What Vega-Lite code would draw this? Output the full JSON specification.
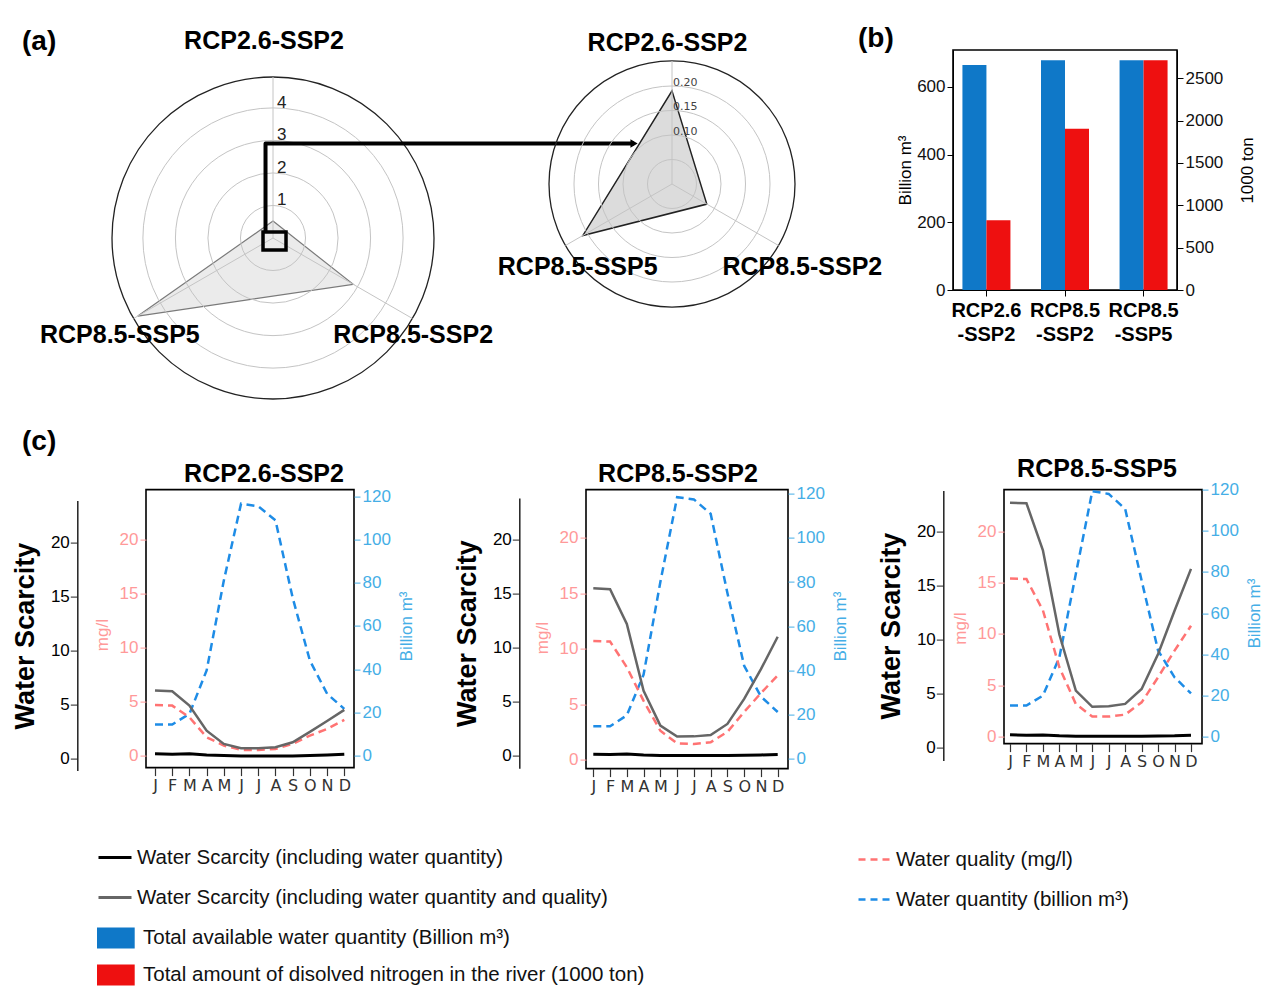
{
"$schema": "https://vega.github.io/schema/vega-lite/v6.json",
"background": "white",
"padding": {"left": 10, "top": 24, "right": 5, "bottom": 5},
"spacing": 25.6,
"config": {
  "font": "Liberation Sans",
  "view": {"stroke": "#000", "strokeWidth": 1.6},
  "axis": {"grid": false, "labelFont": "Liberation Sans", "titleFont": "Liberation Sans", "labelOverlap": false},
  "title": {"font": "Liberation Sans", "color": "#000"},
  "legend": {"labelFont": "Liberation Sans", "labelLimit": 800}
},
"datasets": {
  "monthly": [
    {"scenario": "RCP2.6-SSP2", "month": 1, "ws": 0.42, "wsq": 6.27, "quality": 4.69, "quantity": 14.4},
    {"scenario": "RCP2.6-SSP2", "month": 2, "ws": 0.38, "wsq": 6.2, "quality": 4.63, "quantity": 14.4},
    {"scenario": "RCP2.6-SSP2", "month": 3, "ws": 0.42, "wsq": 4.88, "quality": 3.55, "quantity": 19.3},
    {"scenario": "RCP2.6-SSP2", "month": 4, "ws": 0.3, "wsq": 2.56, "quality": 1.7, "quantity": 39.4},
    {"scenario": "RCP2.6-SSP2", "month": 5, "ws": 0.25, "wsq": 1.33, "quality": 0.93, "quantity": 81},
    {"scenario": "RCP2.6-SSP2", "month": 6, "ws": 0.22, "wsq": 0.93, "quality": 0.53, "quantity": 116.6},
    {"scenario": "RCP2.6-SSP2", "month": 7, "ws": 0.22, "wsq": 0.93, "quality": 0.53, "quantity": 115.4},
    {"scenario": "RCP2.6-SSP2", "month": 8, "ws": 0.22, "wsq": 1.02, "quality": 0.62, "quantity": 108.9},
    {"scenario": "RCP2.6-SSP2", "month": 9, "ws": 0.22, "wsq": 1.48, "quality": 1.08, "quantity": 73},
    {"scenario": "RCP2.6-SSP2", "month": 10, "ws": 0.25, "wsq": 2.45, "quality": 1.85, "quantity": 44},
    {"scenario": "RCP2.6-SSP2", "month": 11, "ws": 0.3, "wsq": 3.45, "quality": 2.47, "quantity": 28.6},
    {"scenario": "RCP2.6-SSP2", "month": 12, "ws": 0.38, "wsq": 4.48, "quality": 3.3, "quantity": 21.6},
    {"scenario": "RCP8.5-SSP2", "month": 1, "ws": 0.12, "wsq": 15.5, "quality": 10.7, "quantity": 14.5},
    {"scenario": "RCP8.5-SSP2", "month": 2, "ws": 0.1, "wsq": 15.4, "quality": 10.65, "quantity": 14.5},
    {"scenario": "RCP8.5-SSP2", "month": 3, "ws": 0.15, "wsq": 12.2, "quality": 8.33, "quantity": 19.5},
    {"scenario": "RCP8.5-SSP2", "month": 4, "ws": 0.05, "wsq": 6.0, "quality": 5.3, "quantity": 38},
    {"scenario": "RCP8.5-SSP2", "month": 5, "ws": 0.02, "wsq": 2.78, "quality": 2.6, "quantity": 80},
    {"scenario": "RCP8.5-SSP2", "month": 6, "ws": 0.02, "wsq": 1.76, "quality": 1.47, "quantity": 118.5},
    {"scenario": "RCP8.5-SSP2", "month": 7, "ws": 0.02, "wsq": 1.78, "quality": 1.4, "quantity": 117.5},
    {"scenario": "RCP8.5-SSP2", "month": 8, "ws": 0.02, "wsq": 1.9, "quality": 1.56, "quantity": 111},
    {"scenario": "RCP8.5-SSP2", "month": 9, "ws": 0.02, "wsq": 2.93, "quality": 2.5, "quantity": 75},
    {"scenario": "RCP8.5-SSP2", "month": 10, "ws": 0.04, "wsq": 5.25, "quality": 4.3, "quantity": 42},
    {"scenario": "RCP8.5-SSP2", "month": 11, "ws": 0.06, "wsq": 8.0, "quality": 6.0, "quantity": 28},
    {"scenario": "RCP8.5-SSP2", "month": 12, "ws": 0.1, "wsq": 11.0, "quality": 7.6, "quantity": 21},
    {"scenario": "RCP8.5-SSP5", "month": 1, "ws": 1.22, "wsq": 22.7, "quality": 15.4, "quantity": 15.1},
    {"scenario": "RCP8.5-SSP5", "month": 2, "ws": 1.18, "wsq": 22.65, "quality": 15.35, "quantity": 15.1},
    {"scenario": "RCP8.5-SSP5", "month": 3, "ws": 1.2, "wsq": 18.3, "quality": 12.3, "quantity": 19.9},
    {"scenario": "RCP8.5-SSP5", "month": 4, "ws": 1.12, "wsq": 10.5, "quality": 6.75, "quantity": 38.5},
    {"scenario": "RCP8.5-SSP5", "month": 5, "ws": 1.08, "wsq": 5.3, "quality": 3.18, "quantity": 79},
    {"scenario": "RCP8.5-SSP5", "month": 6, "ws": 1.08, "wsq": 3.8, "quality": 1.95, "quantity": 119.2},
    {"scenario": "RCP8.5-SSP5", "month": 7, "ws": 1.08, "wsq": 3.85, "quality": 1.95, "quantity": 117.9},
    {"scenario": "RCP8.5-SSP5", "month": 8, "ws": 1.08, "wsq": 4.07, "quality": 2.14, "quantity": 110.6},
    {"scenario": "RCP8.5-SSP5", "month": 9, "ws": 1.08, "wsq": 5.46, "quality": 3.34, "quantity": 75.8},
    {"scenario": "RCP8.5-SSP5", "month": 10, "ws": 1.1, "wsq": 8.7, "quality": 5.78, "quantity": 41.8},
    {"scenario": "RCP8.5-SSP5", "month": 11, "ws": 1.12, "wsq": 12.7, "quality": 8.37, "quantity": 28.8},
    {"scenario": "RCP8.5-SSP5", "month": 12, "ws": 1.18, "wsq": 16.57, "quality": 10.8, "quantity": 21}
  ],
  "bars": [
    {"scenario": "RCP2.6-SSP2", "var": "Total available water quantity (Billion m³)", "value": 665},
    {"scenario": "RCP2.6-SSP2", "var": "Total amount of disolved nitrogen in the river (1000 ton)", "value": 823},
    {"scenario": "RCP8.5-SSP2", "var": "Total available water quantity (Billion m³)", "value": 679},
    {"scenario": "RCP8.5-SSP2", "var": "Total amount of disolved nitrogen in the river (1000 ton)", "value": 1905},
    {"scenario": "RCP8.5-SSP5", "var": "Total available water quantity (Billion m³)", "value": 679},
    {"scenario": "RCP8.5-SSP5", "var": "Total amount of disolved nitrogen in the river (1000 ton)", "value": 2712}
  ],
  "radarL": [
    {"cat": "RCP2.6-SSP2", "k": 0, "angle": 90, "v": 0.52},
    {"cat": "RCP8.5-SSP2", "k": 1, "angle": -30, "v": 2.85},
    {"cat": "RCP8.5-SSP5", "k": 2, "angle": 210, "v": 4.8}
  ],
  "radarR": [
    {"cat": "RCP2.6-SSP2", "k": 0, "angle": 90, "v": 0.19},
    {"cat": "RCP8.5-SSP2", "k": 1, "angle": -30, "v": 0.082},
    {"cat": "RCP8.5-SSP5", "k": 2, "angle": 210, "v": 0.21}
  ],
  "ringsL": [{"r": 1, "outer": false}, {"r": 2, "outer": false}, {"r": 3, "outer": false}, {"r": 4, "outer": false}, {"r": 4.95, "outer": true}],
  "ringsR": [{"r": 0.05, "outer": false}, {"r": 0.1, "outer": false}, {"r": 0.15, "outer": false}, {"r": 0.2, "outer": false}, {"r": 0.251, "outer": true}],
  "zoomBox": [{"x1": -0.307, "x2": 0.4, "y1": -0.369, "y2": 0.184}],
  "arrow": [{"o": 1, "ax": -0.23, "ay": 0.184}, {"o": 2, "ax": -0.23, "ay": 2.905}, {"o": 3, "ax": 11.1, "ay": 2.905}]
},
"vconcat": [
  {
    "resolve": {"scale": {"size": "independent"}},
    "hconcat": [
      {
        "width": 380, "height": 351,
        "view": {"stroke": null},
        "title": {"text": "(a)", "anchor": "start", "frame": "group", "dx": -124, "dy": 49.5, "offset": 0, "fontSize": 28, "fontWeight": "bold", "baseline": "alphabetic"},
        "layer": [
          {"data": {"name": "radarL"},
           "transform": [{"calculate": "datum.v*cos(datum.angle*PI/180)", "as": "px"}, {"calculate": "datum.v*sin(datum.angle*PI/180)", "as": "py"}],
           "mark": {"type": "line", "interpolate": "linear-closed", "fill": "#ebebeb", "stroke": "#7a7a7a", "strokeWidth": 1.2},
           "encoding": {
             "x": {"field": "px", "type": "quantitative", "scale": {"domain": [-4.95, 4.95], "range": [-34, 288], "nice": false, "zero": false}, "axis": null},
             "y": {"field": "py", "type": "quantitative", "scale": {"domain": [-4.95, 4.95], "range": [349, 27], "nice": false, "zero": false}, "axis": null},
             "order": {"field": "k", "type": "quantitative"}}},
          {"data": {"name": "ringsL"}, "transform": [{"filter": "!datum.outer"}, {"calculate": "0", "as": "cx"}],
           "mark": {"type": "point", "shape": "circle", "filled": false, "color": "#c4c4c4", "strokeWidth": 1, "opacity": 1},
           "encoding": {
             "x": {"field": "cx", "type": "quantitative", "axis": null},
             "y": {"field": "cx", "type": "quantitative", "axis": null},
             "size": {"field": "r", "type": "quantitative", "scale": {"type": "pow", "exponent": 2, "domain": [0, 4.95], "range": [0, 103684], "zero": true, "nice": false}, "legend": null}}},
          {"data": {"name": "ringsL"}, "transform": [{"filter": "datum.outer"}, {"calculate": "0", "as": "cx"}],
           "mark": {"type": "point", "shape": "circle", "filled": false, "color": "#222", "strokeWidth": 1.3, "opacity": 1},
           "encoding": {
             "x": {"field": "cx", "type": "quantitative", "axis": null},
             "y": {"field": "cx", "type": "quantitative", "axis": null},
             "size": {"field": "r", "type": "quantitative", "legend": null}}},
          {"data": {"name": "radarL"},
           "transform": [{"calculate": "4.95*cos(datum.angle*PI/180)", "as": "ex"}, {"calculate": "4.95*sin(datum.angle*PI/180)", "as": "ey"}, {"calculate": "0", "as": "cx"}],
           "mark": {"type": "rule", "stroke": "#c4c4c4", "strokeWidth": 1},
           "encoding": {
             "x": {"field": "cx", "type": "quantitative", "axis": null}, "y": {"field": "cx", "type": "quantitative", "axis": null},
             "x2": {"field": "ex"}, "y2": {"field": "ey"}}},
          {"data": {"name": "ringsL"}, "transform": [{"filter": "!datum.outer"}, {"calculate": "0", "as": "cx"}],
           "mark": {"type": "text", "align": "left", "baseline": "alphabetic", "dx": 4, "fontSize": 17, "color": "#222"},
           "encoding": {
             "x": {"field": "cx", "type": "quantitative", "axis": null},
             "y": {"field": "r", "type": "quantitative", "axis": null},
             "text": {"field": "r", "type": "quantitative", "format": ".0f"}}},
          {"data": {"name": "radarL"},
           "transform": [{"filter": "datum.k == 0"}, {"calculate": "5.6*cos(datum.angle*PI/180)", "as": "lx"}, {"calculate": "5.6*sin(datum.angle*PI/180)", "as": "ly"}],
           "mark": {"type": "text", "fontSize": 25, "fontWeight": "bold", "align": "center", "baseline": "middle", "dx": -9, "dy": -15, "color": "#000"},
           "encoding": {"x": {"field": "lx", "type": "quantitative", "axis": null}, "y": {"field": "ly", "type": "quantitative", "axis": null}, "text": {"field": "cat", "type": "nominal"}}},
          {"data": {"name": "radarL"},
           "transform": [{"filter": "datum.k == 1"}, {"calculate": "5.6*cos(datum.angle*PI/180)", "as": "lx"}, {"calculate": "5.6*sin(datum.angle*PI/180)", "as": "ly"}],
           "mark": {"type": "text", "fontSize": 25, "fontWeight": "bold", "align": "center", "baseline": "middle", "dx": -17.6, "dy": 6, "color": "#000"},
           "encoding": {"x": {"field": "lx", "type": "quantitative", "axis": null}, "y": {"field": "ly", "type": "quantitative", "axis": null}, "text": {"field": "cat", "type": "nominal"}}},
          {"data": {"name": "radarL"},
           "transform": [{"filter": "datum.k == 2"}, {"calculate": "5.6*cos(datum.angle*PI/180)", "as": "lx"}, {"calculate": "5.6*sin(datum.angle*PI/180)", "as": "ly"}],
           "mark": {"type": "text", "fontSize": 25, "fontWeight": "bold", "align": "center", "baseline": "middle", "dx": 4.6, "dy": 6, "color": "#000"},
           "encoding": {"x": {"field": "lx", "type": "quantitative", "axis": null}, "y": {"field": "ly", "type": "quantitative", "axis": null}, "text": {"field": "cat", "type": "nominal"}}},
          {"data": {"name": "zoomBox"},
           "mark": {"type": "rect", "filled": false, "stroke": "#000", "strokeWidth": 3.5},
           "encoding": {"x": {"field": "x1", "type": "quantitative", "axis": null}, "x2": {"field": "x2"}, "y": {"field": "y1", "type": "quantitative", "axis": null}, "y2": {"field": "y2"}}},
          {"data": {"name": "arrow"},
           "mark": {"type": "line", "stroke": "#000", "strokeWidth": 4, "strokeJoin": "round"},
           "encoding": {"x": {"field": "ax", "type": "quantitative", "axis": null}, "y": {"field": "ay", "type": "quantitative", "axis": null}, "order": {"field": "o", "type": "quantitative"}}},
          {"data": {"name": "arrow"}, "transform": [{"filter": "datum.o == 3"}],
           "mark": {"type": "point", "shape": "triangle-right", "filled": true, "color": "#000", "size": 70, "opacity": 1},
           "encoding": {"x": {"field": "ax", "type": "quantitative", "axis": null}, "y": {"field": "ay", "type": "quantitative", "axis": null}}}
        ]
      },
      {
        "width": 387, "height": 351,
        "view": {"stroke": null},
        "layer": [
          {"data": {"name": "radarR"},
           "transform": [{"calculate": "datum.v*cos(datum.angle*PI/180)", "as": "px"}, {"calculate": "datum.v*sin(datum.angle*PI/180)", "as": "py"}],
           "mark": {"type": "line", "interpolate": "linear-closed", "fill": "#dcdcdc", "stroke": "#222", "strokeWidth": 1.5},
           "encoding": {
             "x": {"field": "px", "type": "quantitative", "scale": {"domain": [-0.251, 0.251], "range": [3, 249], "nice": false, "zero": false}, "axis": null},
             "y": {"field": "py", "type": "quantitative", "scale": {"domain": [-0.251, 0.251], "range": [257, 11], "nice": false, "zero": false}, "axis": null},
             "order": {"field": "k", "type": "quantitative"}}},
          {"data": {"name": "ringsR"}, "transform": [{"filter": "!datum.outer"}, {"calculate": "0", "as": "cx"}],
           "mark": {"type": "point", "shape": "circle", "filled": false, "color": "#c4c4c4", "strokeWidth": 1, "opacity": 1},
           "encoding": {
             "x": {"field": "cx", "type": "quantitative", "axis": null},
             "y": {"field": "cx", "type": "quantitative", "axis": null},
             "size": {"field": "r", "type": "quantitative", "scale": {"type": "pow", "exponent": 2, "domain": [0, 0.251], "range": [0, 60516], "zero": true, "nice": false}, "legend": null}}},
          {"data": {"name": "ringsR"}, "transform": [{"filter": "datum.outer"}, {"calculate": "0", "as": "cx"}],
           "mark": {"type": "point", "shape": "circle", "filled": false, "color": "#222", "strokeWidth": 1.3, "opacity": 1},
           "encoding": {
             "x": {"field": "cx", "type": "quantitative", "axis": null},
             "y": {"field": "cx", "type": "quantitative", "axis": null},
             "size": {"field": "r", "type": "quantitative", "legend": null}}},
          {"data": {"name": "radarR"},
           "transform": [{"calculate": "0.251*cos(datum.angle*PI/180)", "as": "ex"}, {"calculate": "0.251*sin(datum.angle*PI/180)", "as": "ey"}, {"calculate": "0", "as": "cx"}],
           "mark": {"type": "rule", "stroke": "#c4c4c4", "strokeWidth": 1},
           "encoding": {
             "x": {"field": "cx", "type": "quantitative", "axis": null}, "y": {"field": "cx", "type": "quantitative", "axis": null},
             "x2": {"field": "ex"}, "y2": {"field": "ey"}}},
          {"data": {"name": "ringsR"}, "transform": [{"filter": "!datum.outer && datum.r > 0.07"}, {"calculate": "0", "as": "cx"}],
           "mark": {"type": "text", "align": "left", "baseline": "alphabetic", "dx": 1, "font": "DejaVu Sans", "fontSize": 11, "color": "#444"},
           "encoding": {
             "x": {"field": "cx", "type": "quantitative", "axis": null},
             "y": {"field": "r", "type": "quantitative", "axis": null},
             "text": {"field": "r", "type": "quantitative", "format": ".2f"}}},
          {"data": {"name": "radarR"},
           "transform": [{"filter": "datum.k == 0"}, {"calculate": "0.3*cos(datum.angle*PI/180)", "as": "lx"}, {"calculate": "0.3*sin(datum.angle*PI/180)", "as": "ly"}],
           "mark": {"type": "text", "fontSize": 25, "fontWeight": "bold", "align": "center", "baseline": "middle", "dx": -4.5, "dy": 6.5, "color": "#000"},
           "encoding": {"x": {"field": "lx", "type": "quantitative", "axis": null}, "y": {"field": "ly", "type": "quantitative", "axis": null}, "text": {"field": "cat", "type": "nominal"}}},
          {"data": {"name": "radarR"},
           "transform": [{"filter": "datum.k == 1"}, {"calculate": "0.3*cos(datum.angle*PI/180)", "as": "lx"}, {"calculate": "0.3*sin(datum.angle*PI/180)", "as": "ly"}],
           "mark": {"type": "text", "fontSize": 25, "fontWeight": "bold", "align": "center", "baseline": "middle", "dx": 3, "dy": 9.5, "color": "#000"},
           "encoding": {"x": {"field": "lx", "type": "quantitative", "axis": null}, "y": {"field": "ly", "type": "quantitative", "axis": null}, "text": {"field": "cat", "type": "nominal"}}},
          {"data": {"name": "radarR"},
           "transform": [{"filter": "datum.k == 2"}, {"calculate": "0.3*cos(datum.angle*PI/180)", "as": "lx"}, {"calculate": "0.3*sin(datum.angle*PI/180)", "as": "ly"}],
           "mark": {"type": "text", "fontSize": 25, "fontWeight": "bold", "align": "center", "baseline": "middle", "dx": 33, "dy": 9.5, "color": "#000"},
           "encoding": {"x": {"field": "lx", "type": "quantitative", "axis": null}, "y": {"field": "ly", "type": "quantitative", "axis": null}, "text": {"field": "cat", "type": "nominal"}}}
        ]
      },
      {
        "width": 224, "height": 240,
        "title": {"text": "(b)", "anchor": "start", "frame": "group", "dx": -95, "offset": -25, "fontSize": 28, "fontWeight": "bold", "baseline": "alphabetic"},
        "data": {"name": "bars"},
        "encoding": {
          "x": {"field": "scenario", "type": "nominal", "sort": null, "scale": {"paddingInner": 0.389, "paddingOuter": 0.12},
                "axis": {"title": null, "labelExpr": "[slice(datum.label,0,6), slice(datum.label,6)]", "labelFontSize": 20, "labelFontWeight": "bold", "labelColor": "#000", "labelAngle": 0, "labelLineHeight": 24, "tickSize": 6, "tickColor": "#000", "domainColor": "#000", "labelPadding": 4}}
        },
        "layer": [
          {"transform": [{"filter": "datum.var == 'Total available water quantity (Billion m³)'"}],
           "mark": {"type": "bar", "width": 24, "xOffset": -12},
           "encoding": {
             "y": {"field": "value", "type": "quantitative", "scale": {"domain": [0, 709], "nice": false},
                   "axis": {"orient": "left", "values": [0, 200, 400, 600], "format": "d", "title": "Billion m³", "titleFontSize": 17, "titleFontWeight": "normal", "titleColor": "#000", "labelFontSize": 17, "labelColor": "#111", "tickSize": 6, "tickColor": "#000", "domainColor": "#000", "labelPadding": 2, "titlePadding": 2}},
             "fill": {"field": "var", "type": "nominal", "scale": {"domain": ["Total available water quantity (Billion m³)", "Total amount of disolved nitrogen in the river (1000 ton)"], "range": ["#0f78c8", "#ee1010"]},
                      "legend": {"orient": "none", "legendX": -44.65, "legendY": 873.5, "title": null, "symbolType": "M-1.3,-0.72H1.3V0.72H-1.3Z", "symbolSize": 841, "symbolStrokeWidth": 0, "labelFontSize": 20.5, "labelOffset": 12.65, "rowPadding": 12, "labelColor": "#111", "labelLimit": 800, "padding": 0}}}},
          {"transform": [{"filter": "datum.var == 'Total amount of disolved nitrogen in the river (1000 ton)'"}],
           "mark": {"type": "bar", "width": 24, "xOffset": 12},
           "encoding": {
             "y": {"field": "value", "type": "quantitative", "scale": {"domain": [0, 2834], "nice": false},
                   "axis": {"orient": "right", "values": [0, 500, 1000, 1500, 2000, 2500], "format": "d", "title": "1000 ton", "titleAngle": 270, "titleBaseline": "top", "titleFontSize": 17, "titleFontWeight": "normal", "titleColor": "#000", "labelFontSize": 17, "labelColor": "#111", "tickSize": 6, "tickColor": "#000", "domainColor": "#000", "labelPadding": 2, "titlePadding": 17}},
             "fill": {"field": "var", "type": "nominal"}}}
        ],
        "resolve": {"scale": {"y": "independent"}}
      }
    ],
    "spacing": 20,
    "bounds": "flush"
  },
  {
    "title": {"text": "(c)", "anchor": "start", "frame": "group", "dx": -124, "offset": -22, "fontSize": 28, "fontWeight": "bold", "baseline": "alphabetic"},
    "hconcat": [
      {
        "width": 208, "height": 278,
        "title": {"text": "RCP2.6-SSP2", "fontSize": 25, "fontWeight": "bold", "dx": 14, "offset": -19.8, "baseline": "alphabetic"},
        "data": {"name": "monthly"},
        "transform": [{"filter": "datum.scenario == 'RCP2.6-SSP2'"}],
        "encoding": {"x": {"field": "month", "type": "quantitative", "scale": {"domain": [1, 12], "range": [9, 198.3], "nice": false, "zero": false},
          "axis": {"values": [1,2,3,4,5,6,7,8,9,10,11,12], "labelExpr": "['J','F','M','A','M','J','J','A','S','O','N','D'][datum.value-1]", "title": null, "domain": false, "tickSize": 8, "tickColor": "#333", "tickWidth": 1.2, "labelFont": "DejaVu Sans", "labelFontSize": 16, "labelColor": "#333", "labelPadding": 2, "labelFlush": false, "labelOverlap": false, "labelAngle": 0}}},
        "layer": [
          {"mark": {"type": "line", "strokeDash": [8, 5], "strokeWidth": 2.5},
           "encoding": {
             "y": {"field": "quantity", "type": "quantitative", "scale": {"domain": [0, 120], "range": [266, 6.7], "nice": false, "zero": false},
                   "axis": {"orient": "right", "values": [0, 20, 40, 60, 80, 100, 120], "title": "Billion m³", "titleAngle": 270, "titleBaseline": "top", "titleColor": "#45aee6", "titleFontSize": 17, "titleFontWeight": "normal", "labelColor": "#45aee6", "labelFontSize": 17, "tickColor": "#45aee6", "tickSize": 6, "domain": false, "labelPadding": 2, "titlePadding": 8}},
             "color": {"datum": "Water quantity (billion m³)", "type": "nominal", "scale": {"domain": ["Water quality (mg/l)", "Water quantity (billion m³)"], "range": ["#ff7373", "#1e8ce6"]},
                       "legend": {"orient": "none", "legendX": 717.5, "legendY": 798, "title": null, "symbolType": "M-1.65,0H1.65", "symbolSize": 400, "symbolStrokeWidth": 2.5, "symbolDash": [7, 5], "labelFontSize": 20.5, "labelOffset": 9.5, "rowPadding": 18, "labelColor": "#111", "labelLimit": 800, "padding": 0}}}},
          {"mark": {"type": "line", "strokeDash": [8, 5], "strokeWidth": 2.5},
           "encoding": {
             "y": {"field": "quality", "type": "quantitative", "scale": {"domain": [0, 20], "range": [266, 50], "nice": false, "zero": false},
                   "axis": {"orient": "left", "values": [0, 5, 10, 15, 20], "title": "mg/l", "titleY": 145, "titleColor": "#ff9999", "titleFontSize": 17, "titleFontWeight": "normal", "labelColor": "#ff9999", "labelFontSize": 17, "tickColor": "#ff9999", "tickSize": 6, "domain": false, "labelPadding": 2, "titlePadding": 8}},
             "color": {"datum": "Water quality (mg/l)", "type": "nominal"}}},
          {"mark": {"type": "line", "strokeWidth": 2.5},
           "encoding": {
             "y": {"field": "wsq", "type": "quantitative", "scale": {"domain": [-1.139, 23.86], "range": [281, 11], "nice": false, "zero": false},
                   "axis": {"orient": "left", "offset": 68.7, "values": [0, 5, 10, 15, 20], "title": "Water Scarcity", "titleFontSize": 27, "titleFontWeight": "bold", "titleColor": "#000", "labelColor": "#000", "labelFontSize": 17, "tickColor": "#222", "tickSize": 7, "domainColor": "#222", "domainWidth": 1.5, "labelPadding": 1, "titlePadding": 11}},
             "stroke": {"datum": "Water Scarcity (including water quantity and quality)", "type": "nominal", "scale": {"domain": ["Water Scarcity (including water quantity)", "Water Scarcity (including water quantity and quality)"], "range": ["#000000", "#666666"]},
                        "legend": {"orient": "none", "legendX": -42.5, "legendY": 796, "title": null, "symbolType": "M-1.65,0H1.65", "symbolSize": 400, "symbolStrokeWidth": 3, "labelFontSize": 20.5, "labelOffset": 10.5, "rowPadding": 18, "labelColor": "#111", "labelLimit": 800, "padding": 0}}}},
          {"mark": {"type": "line", "strokeWidth": 3},
           "encoding": {
             "y": {"field": "ws", "type": "quantitative", "scale": {"domain": [-1.139, 23.86], "range": [281, 11], "nice": false, "zero": false}, "axis": null},
             "stroke": {"datum": "Water Scarcity (including water quantity)", "type": "nominal"}}}
        ],
        "resolve": {"scale": {"y": "independent"}, "axis": {"y": "independent"}}
      },
      {
        "hconcat": [
          {
            "width": 202, "height": 279,
            "title": {"text": "RCP8.5-SSP2", "fontSize": 25, "fontWeight": "bold", "dx": -9, "offset": -22.2, "baseline": "alphabetic"},
            "data": {"name": "monthly"},
            "transform": [{"filter": "datum.scenario == 'RCP8.5-SSP2'"}],
            "encoding": {"x": {"field": "month", "type": "quantitative", "scale": {"domain": [1, 12], "range": [7.3, 191.7], "nice": false, "zero": false},
              "axis": {"values": [1,2,3,4,5,6,7,8,9,10,11,12], "labelExpr": "['J','F','M','A','M','J','J','A','S','O','N','D'][datum.value-1]", "title": null, "domain": false, "tickSize": 8, "tickColor": "#333", "tickWidth": 1.2, "labelFont": "DejaVu Sans", "labelFontSize": 16, "labelColor": "#333", "labelPadding": 2, "labelFlush": false, "labelOverlap": false, "labelAngle": 0}}},
            "layer": [
              {"mark": {"type": "line", "strokeDash": [8, 5], "strokeWidth": 2.5, "color": "#1e8ce6"},
               "encoding": {
                 "y": {"field": "quantity", "type": "quantitative", "scale": {"domain": [0, 120], "range": [268.7, 4.3], "nice": false, "zero": false},
                       "axis": {"orient": "right", "values": [0, 20, 40, 60, 80, 100, 120], "title": "Billion m³", "titleAngle": 270, "titleBaseline": "top", "titleColor": "#45aee6", "titleFontSize": 17, "titleFontWeight": "normal", "labelColor": "#45aee6", "labelFontSize": 17, "tickColor": "#45aee6", "tickSize": 6, "domain": false, "labelPadding": 2, "titlePadding": 8}}}},
              {"mark": {"type": "line", "strokeDash": [8, 5], "strokeWidth": 2.5, "color": "#ff7373"},
               "encoding": {
                 "y": {"field": "quality", "type": "quantitative", "scale": {"domain": [0, 20], "range": [270, 48.3], "nice": false, "zero": false},
                       "axis": {"orient": "left", "values": [0, 5, 10, 15, 20], "title": "mg/l", "titleY": 148, "titleColor": "#ff9999", "titleFontSize": 17, "titleFontWeight": "normal", "labelColor": "#ff9999", "labelFontSize": 17, "tickColor": "#ff9999", "tickSize": 6, "domain": false, "labelPadding": 2, "titlePadding": 8}}}},
              {"mark": {"type": "line", "strokeWidth": 2.5, "color": "#666666"},
               "encoding": {
                 "y": {"field": "wsq", "type": "quantitative", "scale": {"domain": [-1.176, 23.86], "range": [278.7, 8.3], "nice": false, "zero": false},
                       "axis": {"orient": "left", "offset": 66.7, "values": [0, 5, 10, 15, 20], "title": "Water Scarcity", "titleFontSize": 27, "titleFontWeight": "bold", "titleColor": "#000", "labelColor": "#000", "labelFontSize": 17, "tickColor": "#222", "tickSize": 7, "domainColor": "#222", "domainWidth": 1.5, "labelPadding": 1, "titlePadding": 11}}}},
              {"mark": {"type": "line", "strokeWidth": 3, "color": "#000000"},
               "encoding": {
                 "y": {"field": "ws", "type": "quantitative", "scale": {"domain": [-1.176, 23.86], "range": [278.7, 8.3], "nice": false, "zero": false}, "axis": null}}}
            ],
            "resolve": {"scale": {"y": "independent"}, "axis": {"y": "independent"}}
          },
          {
            "width": 198, "height": 254,
            "title": {"text": "RCP8.5-SSP5", "fontSize": 25, "fontWeight": "bold", "dx": -6, "offset": -21.5, "baseline": "alphabetic"},
            "data": {"name": "monthly"},
            "transform": [{"filter": "datum.scenario == 'RCP8.5-SSP5'"}],
            "encoding": {"x": {"field": "month", "type": "quantitative", "scale": {"domain": [1, 12], "range": [6, 187], "nice": false, "zero": false},
              "axis": {"values": [1,2,3,4,5,6,7,8,9,10,11,12], "labelExpr": "['J','F','M','A','M','J','J','A','S','O','N','D'][datum.value-1]", "title": null, "domain": false, "tickSize": 8, "tickColor": "#333", "tickWidth": 1.2, "labelFont": "DejaVu Sans", "labelFontSize": 16, "labelColor": "#333", "labelPadding": 2, "labelFlush": false, "labelOverlap": false, "labelAngle": 0}}},
            "layer": [
              {"mark": {"type": "line", "strokeDash": [8, 5], "strokeWidth": 2.5, "color": "#1e8ce6"},
               "encoding": {
                 "y": {"field": "quantity", "type": "quantitative", "scale": {"domain": [0, 120], "range": [247, 0], "nice": false, "zero": false},
                       "axis": {"orient": "right", "values": [0, 20, 40, 60, 80, 100, 120], "title": "Billion m³", "titleAngle": 270, "titleBaseline": "top", "titleColor": "#45aee6", "titleFontSize": 17, "titleFontWeight": "normal", "labelColor": "#45aee6", "labelFontSize": 17, "tickColor": "#45aee6", "tickSize": 6, "domain": false, "labelPadding": 2, "titlePadding": 8}}}},
              {"mark": {"type": "line", "strokeDash": [8, 5], "strokeWidth": 2.5, "color": "#ff7373"},
               "encoding": {
                 "y": {"field": "quality", "type": "quantitative", "scale": {"domain": [0, 20], "range": [247, 41.7], "nice": false, "zero": false},
                       "axis": {"orient": "left", "values": [0, 5, 10, 15, 20], "title": "mg/l", "titleY": 138.5, "titleColor": "#ff9999", "titleFontSize": 17, "titleFontWeight": "normal", "labelColor": "#ff9999", "labelFontSize": 17, "tickColor": "#ff9999", "tickSize": 6, "domain": false, "labelPadding": 2, "titlePadding": 8}}}},
              {"mark": {"type": "line", "strokeWidth": 2.5, "color": "#666666"},
               "encoding": {
                 "y": {"field": "wsq", "type": "quantitative", "scale": {"domain": [-1.176, 23.82], "range": [271, 1], "nice": false, "zero": false},
                       "axis": {"orient": "left", "offset": 60.7, "values": [0, 5, 10, 15, 20], "title": "Water Scarcity", "titleFontSize": 27, "titleFontWeight": "bold", "titleColor": "#000", "labelColor": "#000", "labelFontSize": 17, "tickColor": "#222", "tickSize": 7, "domainColor": "#222", "domainWidth": 1.5, "labelPadding": 1, "titlePadding": 11}}}},
              {"mark": {"type": "line", "strokeWidth": 3, "color": "#000000"},
               "encoding": {
                 "y": {"field": "ws", "type": "quantitative", "scale": {"domain": [-1.176, 23.82], "range": [271, 1], "nice": false, "zero": false}, "axis": null}}}
            ],
            "resolve": {"scale": {"y": "independent"}, "axis": {"y": "independent"}}
          }
        ],
        "spacing": 216,
        "bounds": "flush"
      }
    ],
    "spacing": 232,
    "bounds": "flush"
  }
]
}
